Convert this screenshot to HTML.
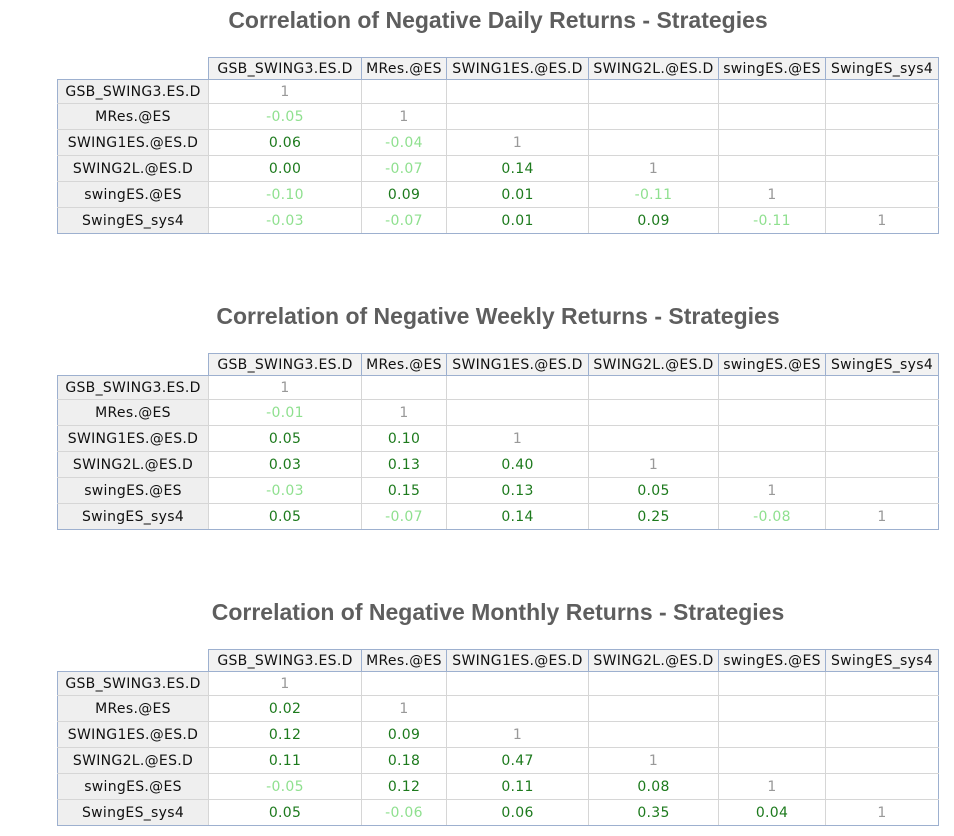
<!DOCTYPE html>
<html><head><meta charset="utf-8"><style>
body{margin:0;width:954px;height:836px;background:#fff;position:relative;overflow:hidden;font-family:"DejaVu Sans","Liberation Sans",sans-serif;}
h2{position:absolute;left:0;width:996px;margin:0;text-align:center;font:bold 23px "Liberation Sans",sans-serif;color:#5e5e5e;}
table{position:absolute;left:57px;border-collapse:collapse;table-layout:fixed;font-size:14px;letter-spacing:0.3px;}
td{border:1px solid #d6d6d6;text-align:center;height:25px;padding:0;white-space:nowrap;overflow:hidden}
tr.h td{height:21px;background:#f2f2f2;color:#111;border:1px solid #9db0cf}
tr.h td.e{background:#fff;border:none;border-bottom:1px solid #9db0cf}
tr.f td{height:23px}
td.l{background:#efefef;color:#111;border-left:1px solid #9db0cf}
td.r{border-right:1px solid #9db0cf}
tr.last td{border-bottom:1px solid #9db0cf}
.o{color:#999}.p{color:#1d7a1d}.n{color:#8fe08f}
</style></head><body>

<h2 style="top:7px">Correlation of Negative Daily Returns - Strategies</h2>
<table style="top:57px">
<colgroup><col style="width:151px"><col style="width:153px"><col style="width:85px"><col style="width:142px"><col style="width:130px"><col style="width:107px"><col style="width:113px"></colgroup>
<tr class="h"><td class="e"></td><td>GSB_SWING3.ES.D</td><td>MRes.@ES</td><td>SWING1ES.@ES.D</td><td>SWING2L.@ES.D</td><td>swingES.@ES</td><td>SwingES_sys4</td></tr>
<tr class="f"><td class="l">GSB_SWING3.ES.D</td><td class="o">1</td><td></td><td></td><td></td><td></td><td class="r"></td></tr>
<tr><td class="l">MRes.@ES</td><td class="n">-0.05</td><td class="o">1</td><td></td><td></td><td></td><td class="r"></td></tr>
<tr><td class="l">SWING1ES.@ES.D</td><td class="p">0.06</td><td class="n">-0.04</td><td class="o">1</td><td></td><td></td><td class="r"></td></tr>
<tr><td class="l">SWING2L.@ES.D</td><td class="p">0.00</td><td class="n">-0.07</td><td class="p">0.14</td><td class="o">1</td><td></td><td class="r"></td></tr>
<tr><td class="l">swingES.@ES</td><td class="n">-0.10</td><td class="p">0.09</td><td class="p">0.01</td><td class="n">-0.11</td><td class="o">1</td><td class="r"></td></tr>
<tr class="last"><td class="l">SwingES_sys4</td><td class="n">-0.03</td><td class="n">-0.07</td><td class="p">0.01</td><td class="p">0.09</td><td class="n">-0.11</td><td class="o r">1</td></tr>
</table>

<h2 style="top:303px">Correlation of Negative Weekly Returns - Strategies</h2>
<table style="top:353px">
<colgroup><col style="width:151px"><col style="width:153px"><col style="width:85px"><col style="width:142px"><col style="width:130px"><col style="width:107px"><col style="width:113px"></colgroup>
<tr class="h"><td class="e"></td><td>GSB_SWING3.ES.D</td><td>MRes.@ES</td><td>SWING1ES.@ES.D</td><td>SWING2L.@ES.D</td><td>swingES.@ES</td><td>SwingES_sys4</td></tr>
<tr class="f"><td class="l">GSB_SWING3.ES.D</td><td class="o">1</td><td></td><td></td><td></td><td></td><td class="r"></td></tr>
<tr><td class="l">MRes.@ES</td><td class="n">-0.01</td><td class="o">1</td><td></td><td></td><td></td><td class="r"></td></tr>
<tr><td class="l">SWING1ES.@ES.D</td><td class="p">0.05</td><td class="p">0.10</td><td class="o">1</td><td></td><td></td><td class="r"></td></tr>
<tr><td class="l">SWING2L.@ES.D</td><td class="p">0.03</td><td class="p">0.13</td><td class="p">0.40</td><td class="o">1</td><td></td><td class="r"></td></tr>
<tr><td class="l">swingES.@ES</td><td class="n">-0.03</td><td class="p">0.15</td><td class="p">0.13</td><td class="p">0.05</td><td class="o">1</td><td class="r"></td></tr>
<tr class="last"><td class="l">SwingES_sys4</td><td class="p">0.05</td><td class="n">-0.07</td><td class="p">0.14</td><td class="p">0.25</td><td class="n">-0.08</td><td class="o r">1</td></tr>
</table>

<h2 style="top:599px">Correlation of Negative Monthly Returns - Strategies</h2>
<table style="top:649px">
<colgroup><col style="width:151px"><col style="width:153px"><col style="width:85px"><col style="width:142px"><col style="width:130px"><col style="width:107px"><col style="width:113px"></colgroup>
<tr class="h"><td class="e"></td><td>GSB_SWING3.ES.D</td><td>MRes.@ES</td><td>SWING1ES.@ES.D</td><td>SWING2L.@ES.D</td><td>swingES.@ES</td><td>SwingES_sys4</td></tr>
<tr class="f"><td class="l">GSB_SWING3.ES.D</td><td class="o">1</td><td></td><td></td><td></td><td></td><td class="r"></td></tr>
<tr><td class="l">MRes.@ES</td><td class="p">0.02</td><td class="o">1</td><td></td><td></td><td></td><td class="r"></td></tr>
<tr><td class="l">SWING1ES.@ES.D</td><td class="p">0.12</td><td class="p">0.09</td><td class="o">1</td><td></td><td></td><td class="r"></td></tr>
<tr><td class="l">SWING2L.@ES.D</td><td class="p">0.11</td><td class="p">0.18</td><td class="p">0.47</td><td class="o">1</td><td></td><td class="r"></td></tr>
<tr><td class="l">swingES.@ES</td><td class="n">-0.05</td><td class="p">0.12</td><td class="p">0.11</td><td class="p">0.08</td><td class="o">1</td><td class="r"></td></tr>
<tr class="last"><td class="l">SwingES_sys4</td><td class="p">0.05</td><td class="n">-0.06</td><td class="p">0.06</td><td class="p">0.35</td><td class="p">0.04</td><td class="o r">1</td></tr>
</table>
</body></html>
